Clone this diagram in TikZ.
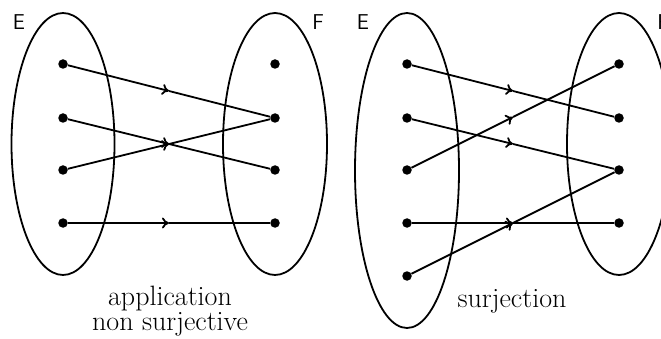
\documentclass[tikz,border=0pt]{standalone}
\usetikzlibrary{calc,arrows.meta}
\begin{document}
\begin{tikzpicture}[x=1pt,y=-1pt,
  dot/.style={circle,fill=black,inner sep=0pt,minimum size=9.5pt},
  setline/.style={line width=1.8pt},
  mapline/.style={line width=1.8pt},
  arr/.style={line width=1.8pt,-{To[length=7pt,width=11pt]}},
  setlabel/.style={font=\sffamily\fontsize{21.5}{26}\selectfont},
  caption/.style={font=\fontsize{28}{30}\selectfont,anchor=base,inner sep=0pt}]
\useasboundingbox (0,0) rectangle (661,339);
% left diagram
\draw[setline] (63,144) ellipse [x radius=51.5, y radius=131];
\draw[setline] (275,144) ellipse [x radius=52, y radius=131];
\node[setlabel] (LE) at (19,22) {E};
\node[setlabel] (LF) at (318,22) {F};
\foreach \i/\y in {1/64,2/118,3/170,4/223}{
  \node[dot] (a\i) at (63,\y) {};
  \node[dot] (b\i) at (275,\y) {};
}
\foreach \s/\t in {a1/b2,a2/b3,a3/b2,a4/b4}{
  \coordinate (m\s) at ($(\s)!.5!(\t)$);
  \draw[arr] (\s) -- (m\s);
  \draw[mapline] (m\s) -- (\t);
}
\node[caption] (cap1a) at (170,305) {application};
\node[caption] (cap1b) at (170,330) {non surjective};
% right diagram
\draw[setline] (407,170.5) ellipse [x radius=52, y radius=157.5];
\draw[setline] (619,144) ellipse [x radius=52, y radius=131];
\node[setlabel] (RE) at (363,22) {E};
\node[setlabel] (RF) at (663,22) {F};
\foreach \i/\y in {1/64,2/118,3/170,4/223,5/276}{
  \node[dot] (c\i) at (407,\y) {};
}
\foreach \i/\y in {1/64,2/118,3/170,4/223}{
  \node[dot] (d\i) at (619,\y) {};
}
\foreach \s/\t in {c1/d2,c2/d3,c3/d1,c4/d4,c5/d3}{
  \coordinate (m\s) at ($(\s)!.5!(\t)$);
  \draw[arr] (\s) -- (m\s);
  \draw[mapline] (m\s) -- (\t);
}
\node[caption] (cap2) at (512,307) {surjection};
\end{tikzpicture}
\end{document}
